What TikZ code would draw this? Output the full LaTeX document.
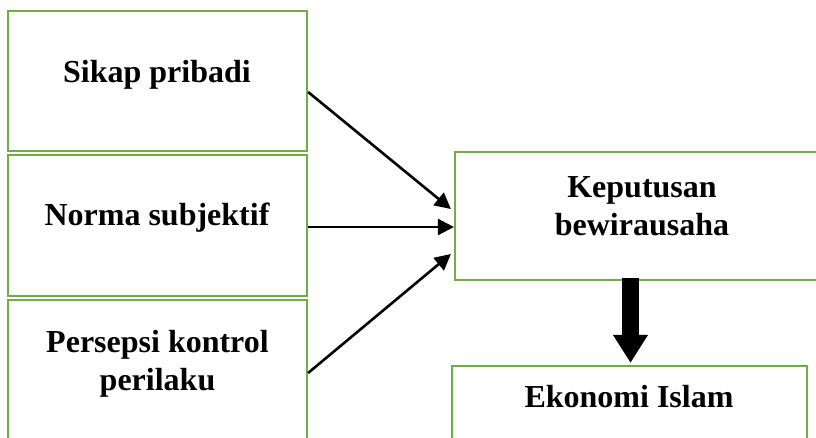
\documentclass[tikz,border=0pt]{standalone}
\usepackage{fontspec}
\setmainfont{Liberation Serif}
\usetikzlibrary{arrows.meta,calc}
\definecolor{boxgreen}{HTML}{70AD47}
\tikzset{
  box/.style={draw=boxgreen, line width=2.2pt, rectangle, inner sep=0pt, fill=none},
  lbl/.style={font=\fontsize{32}{38}\selectfont\bfseries, inner sep=0pt, anchor=base},
  conn/.style={line width=2.6pt, -{Triangle[length=16pt,width=16pt]}},
  bigarrow/.style={line width=17pt, -{Triangle[length=28pt,width=33pt]}}
}
\begin{document}
\begin{tikzpicture}[x=1pt,y=-1pt]
\useasboundingbox (0,0) rectangle (816,437);
\clip (0,0) rectangle (816,437);
\fill[white] (0,0) rectangle (816,437);
% boxes
\node[box, minimum width=299pt, minimum height=140pt] (b1) at (157.5,81) {};
\node[box, minimum width=299pt, minimum height=141pt] (b2) at (157.5,225.5) {};
\node[box, minimum width=299pt, minimum height=180pt] (b3) at (157.5,390) {};
\node[box, minimum width=375pt, minimum height=128pt] (K) at (642.5,216) {};
\node[box, minimum width=355pt, minimum height=114pt] (E) at (629.5,423) {};
% texts
\node[lbl] (t1) at (157,82) {Sikap pribadi};
\node[lbl] (t2) at (157,225) {Norma subjektif};
\node[lbl] (t3a) at (157.5,352) {Persepsi kontrol};
\node[lbl] (t3b) at (157.5,390) {perilaku};
\node[lbl] (tKa) at (642,197) {Keputusan};
\node[lbl] (tKb) at (642,235) {bewirausaha};
\node[lbl] (tE) at (629,407) {Ekonomi Islam};
% connectors
\draw[conn] ($(b1.east)+(0,11)$) -- ($(K.west)+(-3,-7)$);
\draw[conn] ($(b2.east)+(0,1.5)$) -- ($(K.west)+(0,11)$);
\draw[conn] ($(b3.east)+(0,-17)$) -- ($(K.west)+(-3,38)$);
\coordinate (ks) at ($(K.south)+(-12,-3)$);
\draw[bigarrow] (ks) -- ($(ks |- E.north)+(0,-2)$);
\end{tikzpicture}
\end{document}
